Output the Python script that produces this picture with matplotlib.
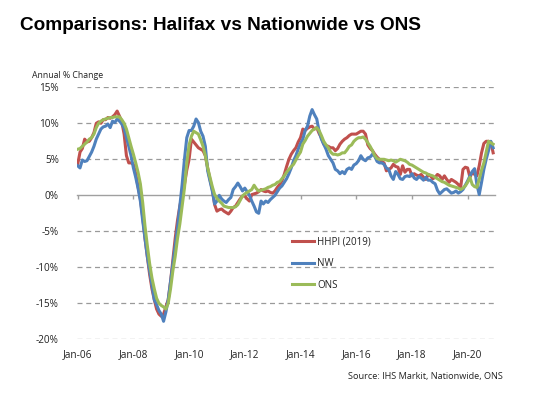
import matplotlib
matplotlib.use("Agg")
import matplotlib.pyplot as plt
import numpy as np

# Monthly annual % change, Jan 2006 .. Dec 2020
hhpi = [
    4.3, 6.0, 6.5, 7.8, 7.4, 7.5, 8.0, 8.7, 10.0, 10.2, 10.0, 10.5,          # 2006
    10.5, 10.8, 10.7, 10.9, 11.2, 11.7, 11.0, 10.2, 8.5, 5.5, 4.5, 4.5,      # 2007
    4.3, 3.0, 1.2, -0.5, -3.0, -6.0, -8.5, -11.0, -13.0, -14.5, -15.8, -16.5,  # 2008
    -16.8, -16.5, -15.5, -14.5, -12.0, -9.0, -6.0, -3.5, -1.5, 0.0, 1.5, 3.5,  # 2009
    5.0, 7.8, 7.4, 7.0, 6.6, 6.4, 6.2, 5.5, 3.8, 2.2, 0.8, -1.3,             # 2010
    -2.2, -2.0, -1.9, -2.2, -2.4, -2.6, -2.2, -1.7, -1.5, -1.0, -0.5, -0.1,  # 2011
    -0.1, -0.5, -0.8, 0.1, 0.2, 0.3, 0.5, 0.8, 0.6, 0.5, 0.6, 0.4,           # 2012
    0.3, 0.6, 1.1, 1.5, 2.0, 2.9, 4.0, 5.0, 5.7, 6.2, 6.6, 7.4,              # 2013
    8.0, 9.2, 9.0, 9.3, 9.5, 9.6, 9.2, 9.4, 8.6, 8.0, 7.1, 6.9,              # 2014
    6.8, 6.6, 6.6, 6.2, 6.5, 7.1, 7.5, 7.8, 8.0, 8.3, 8.5, 8.5,              # 2015
    8.5, 8.7, 8.9, 8.9, 8.5, 7.0, 6.5, 6.2, 5.7, 5.3, 5.0, 4.7,              # 2016
    4.5, 3.4, 3.6, 3.8, 4.3, 4.0, 3.9, 2.9, 4.1, 3.2, 3.6, 3.6,              # 2017
    2.7, 3.0, 2.8, 2.7, 2.9, 2.5, 2.2, 2.9, 2.7, 2.3, 2.5, 2.9,              # 2018
    2.7, 2.2, 2.7, 2.2, 1.8, 2.2, 2.0, 1.8, 1.5, 1.1, 3.6, 3.9,              # 2019
    3.8, 2.5, 3.2, 2.9, 2.7, 4.1, 5.9, 7.2, 7.5, 7.5, 7.4, 5.9,              # 2020
]

nw = [
    4.1, 3.8, 4.9, 4.7, 4.8, 5.4, 6.0, 6.8, 7.8, 8.5, 9.2, 9.5,              # 2006
    9.6, 9.9, 9.4, 10.3, 10.1, 10.6, 10.3, 9.9, 9.3, 8.0, 6.8, 5.5,          # 2007
    3.8, 2.5, 1.0, -0.8, -3.5, -6.0, -8.5, -10.5, -12.5, -14.5, -15.2, -16.0,  # 2008
    -16.5, -17.5, -16.2, -14.5, -12.0, -9.5, -7.0, -4.5, -1.5, 1.5, 5.0, 8.0,  # 2009
    9.0, 9.0, 9.6, 10.6, 10.1, 8.9, 8.2, 6.8, 3.4, 2.0, 0.6, -1.2,           # 2010
    -0.8, 0.0, -0.5, -0.8, -1.0, -0.6, -0.3, 0.8, 1.2, 1.7, 1.2, 0.6,        # 2011
    1.0, 0.5, 0.0, -0.8, -1.5, -2.3, -2.5, -0.8, -1.2, -0.8, -1.0, -0.6,     # 2012
    -0.3, 0.0, 0.5, 1.0, 1.3, 1.8, 2.3, 3.0, 3.8, 4.8, 5.5, 6.4,             # 2013
    7.2, 7.8, 9.0, 9.6, 11.0, 11.9, 11.2, 10.6, 8.9, 7.8, 7.1, 6.4,          # 2014
    5.5, 5.0, 4.5, 3.6, 3.4, 3.0, 3.3, 3.0, 3.6, 3.8, 3.6, 4.2,              # 2015
    4.4, 4.8, 5.5, 5.0, 4.8, 5.2, 5.3, 5.7, 5.4, 4.7, 4.5, 4.5,              # 2016
    4.3, 3.8, 3.6, 2.7, 2.2, 3.3, 2.9, 2.3, 2.2, 2.6, 2.7, 2.6,              # 2017
    3.0, 2.4, 2.2, 2.6, 2.4, 2.1, 2.5, 2.1, 2.1, 1.8, 1.6, 0.7,              # 2018
    0.2, 0.5, 0.8, 0.9, 0.6, 0.3, 0.4, 0.6, 0.3, 0.5, 0.8, 1.4,              # 2019
    2.0, 2.7, 3.3, 3.7, 1.5, 0.1, 1.8, 3.6, 5.0, 6.2, 7.5, 6.6,              # 2020
]

ons = [
    6.4, 6.5, 6.8, 7.1, 7.4, 7.8, 8.0, 8.5, 9.4, 10.0, 10.3, 10.5,           # 2006
    10.6, 10.7, 10.8, 10.8, 10.9, 10.9, 10.9, 10.5, 10.0, 9.2, 8.0, 6.8,     # 2007
    5.7, 4.5, 3.2, 1.6, -1.0, -4.3, -7.0, -9.5, -11.5, -13.0, -14.3, -15.0,  # 2008
    -15.3, -15.5, -15.8, -15.0, -13.0, -10.5, -8.5, -6.0, -4.0, -1.5, 1.0, 4.5,  # 2009
    7.0, 8.2, 8.9, 8.7, 8.5, 7.7, 6.8, 5.5, 3.8, 2.5, 1.2, 0.1,              # 2010
    -0.4, -0.8, -1.1, -1.5, -1.6, -1.7, -1.7, -1.7, -1.6, -1.3, -0.7, -0.1,  # 2011
    0.2, 0.4, 0.6, 0.8, 1.4, 0.9, 0.6, 0.7, 0.8, 0.9, 1.1, 1.2,              # 2012
    1.4, 1.5, 1.8, 1.9, 2.3, 2.7, 3.2, 3.6, 4.0, 4.3, 4.9, 5.5,              # 2013
    6.0, 7.1, 7.6, 8.2, 8.6, 9.0, 9.2, 9.4, 9.0, 8.3, 7.5, 7.0,              # 2014
    6.6, 6.0, 5.7, 5.7, 5.6, 5.7, 5.9, 5.9, 6.3, 6.8, 7.0, 7.5,              # 2015
    7.8, 8.0, 8.0, 8.1, 7.8, 7.3, 6.8, 6.2, 5.5, 5.1, 5.0, 5.0,              # 2016
    5.0, 4.9, 4.8, 4.9, 4.8, 4.6, 4.8, 5.0, 4.9, 4.8, 4.6, 4.3,              # 2017
    4.2, 4.0, 3.8, 3.6, 3.4, 3.2, 3.1, 2.9, 2.8, 2.7, 2.5, 2.3,              # 2018
    2.1, 1.9, 1.8, 1.6, 1.4, 1.3, 1.2, 1.1, 1.0, 0.8, 1.0, 1.3,              # 2019
    1.8, 2.5, 1.5, 1.2, 1.1, 2.2, 3.5, 4.5, 6.0, 7.5, 7.3, 7.1,              # 2020
]

series_labels = ["HHPI (2019)", "NW", "ONS"]
series_colors = ["#C0504D", "#4F81BD", "#9BBB59"]
x_tick_labels = ["Jan-06", "Jan-08", "Jan-10", "Jan-12", "Jan-14", "Jan-16", "Jan-18", "Jan-20"]
y_ticks = [-20, -15, -10, -5, 0, 5, 10, 15]

small_font = ["Open Sans", "DejaVu Sans"]

W, H = 559, 397
fig = plt.figure(figsize=(W / 100, H / 100), dpi=100)
ax = fig.add_axes([77 / W, 1 - 339.3 / H, (495 - 77) / W, (339.3 - 87.3) / H])

months = np.arange(len(hhpi))
for vals, lab, col in zip([hhpi, nw, ons], series_labels, series_colors):
    ax.plot(months, vals, color=col, lw=2.2, label=lab, solid_joinstyle="round", zorder=3)

ax.set_xlim(-0.3, 179.8)
ax.set_ylim(-20, 15)

# dashed gridlines (excluding zero)
for yv in y_ticks:
    if yv != 0:
        ax.axhline(yv, color="#9A9A9A", lw=0.9, ls=(0, (4, 3)), zorder=1)

for s in ["top", "right", "left"]:
    ax.spines[s].set_visible(False)
ax.spines["bottom"].set_position(("data", 0))
ax.spines["bottom"].set_color("#A0A0A0")
ax.spines["bottom"].set_linewidth(1.0)

xt = np.arange(0, 180, 24)
ax.set_xticks(xt)
ax.tick_params(axis="x", direction="out", length=3, width=1.0, color="#A0A0A0", labelbottom=False)

sec = ax.secondary_xaxis("bottom")
sec.set_xticks(xt)
sec.set_xticklabels(x_tick_labels, fontfamily=small_font, fontsize=7.3, color="#222222")
sec.tick_params(length=0, pad=7)
sec.spines["bottom"].set_visible(False)

ax.set_yticks(y_ticks)
ax.set_yticklabels([f"{v}%" for v in y_ticks], fontfamily=small_font, fontsize=7.2, color="#222222")
ax.tick_params(axis="y", length=0, pad=13)

leg = ax.legend(loc="upper left", bbox_to_anchor=(0.493, 0.443), frameon=False,
                handlelength=2.3, handletextpad=0.3, labelspacing=1.1,
                prop={"family": small_font, "size": 7.0})
for t in leg.get_texts():
    t.set_color("#222222")

fig.text(20 / W, 1 - 30.5 / H, "Comparisons: Halifax vs Nationwide vs ONS",
         fontfamily=["Liberation Sans", "DejaVu Sans"], fontweight="bold", fontsize=13.7,
         va="baseline", ha="left", color="black")
fig.text(32 / W, 1 - 78 / H, "Annual % Change", fontfamily=small_font, fontsize=6.3,
         va="baseline", ha="left", color="#222222")
fig.text(503 / W, 1 - 378.5 / H, "Source: IHS Markit, Nationwide, ONS", fontfamily=small_font,
         fontsize=6.6, va="baseline", ha="right", color="#222222")

fig.savefig("out.png", dpi=100)
